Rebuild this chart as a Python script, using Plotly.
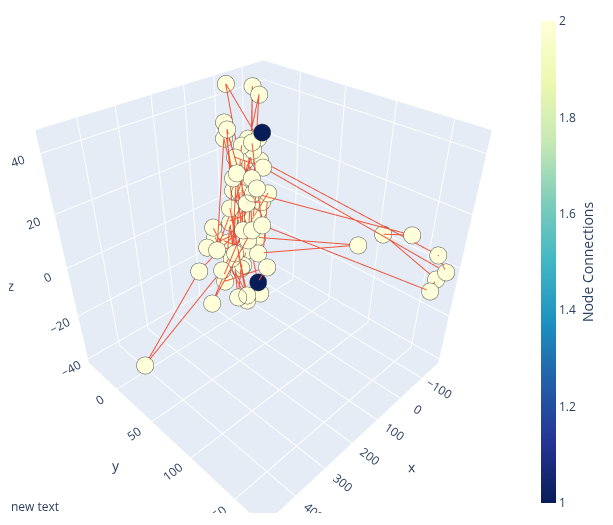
import plotly.graph_objects as go

# node coordinates, listed in chain order (each node is linked to the next one)
node_x = [33.0, 45.7, -10.8, 116.4, 89.9, -29.9, 108.8, -122.7, -73.9, -120.4,
          -98.1, 125.1, 60.1, -56.7, 125.9, 88.3, 128.4, 104.2, 227.2, 66.2,
          200.4, 64.1, -147.5, -144.4, 66.0, 104.1, 159.7, -20.0, 145.6, 90.1,
          199.3, 130.2, 195.9, 83.1, 238.4, 464.9, 278.9, 117.1, 211.3, 220.2,
          163.3, 225.2, 217.7, 173.9, 241.4, 162.7, 288.3, 147.3,
          62.9, 197.4, 80.7, 209.8, 117.0, 184.2, 96.3, 164.0, 140.2, 132.3,
          97.6, 153.0, 129.6, 102.5,
          203.8, 237.7, 177.1, 244.1, 158.2, 188.4]
node_y = [23.8, 23.4, -34.3, 30.9, 23.2, -0.5, 38.6, 142.3, 125.5, 170.2,
          170.7, 54.2, 21.3, -17.5, 40.8, -1.1, 22.3, 4.1, 36.8, 24.5,
          40.4, 31.7, 163.6, 173.6, 35.7, 16.6, 61.0, 115.0, 55.2, 2.9,
          48.0, 30.9, 75.2, 47.0, 46.2, 33.6, 33.5, 47.0, 27.0, 68.6,
          30.4, 70.2, 31.4, 54.3, 30.2, 45.0, 51.4, 50.1,
          17.7, 56.4, 16.5, 47.8, 22.8, 52.1, 32.9, 51.1, 26.2, 46.4,
          39.1, 38.4, 38.3, 46.3,
          56.3, 64.1, 35.0, 51.5, 70.7, 70.5]
node_z = [36.2, 34.6, 44.9, 22.4, 28.9, 44.0, 20.4, 9.5, 9.7, -2.0,
          -5.1, 12.1, 33.6, 44.3, 17.2, 38.8, 24.3, 34.6, 5.6, 31.5,
          7.6, 28.9, 4.3, -0.1, 27.1, 29.7, 4.8, 6.9, 8.9, 37.0,
          4.8, 20.6, -5.6, 20.4, 0.4, -24.3, 0.1, 15.9, 11.5, -6.1,
          16.5, -7.4, 8.9, 5.6, 6.3, 10.8, -8.2, 10.8,
          34.6, 1.7, 32.8, 3.5, 25.6, 5.1, 24.3, 8.2, 21.1, 14.2,
          21.7, 14.6, 17.8, 18.1,
          0.9, -6.6, 12.8, -2.5, 1.2, -2.7]

# axis ranges and label
x_range = [-181, 499]
y_range = [-45, 179]
z_range = [-42, 47]
note = "new text"

n = len(node_x)
edges = [(i, i + 1) for i in range(n - 1)]

# connections per node
degree = [0] * n
for a, b in edges:
    degree[a] += 1
    degree[b] += 1

edge_x, edge_y, edge_z = [], [], []
for a, b in edges:
    edge_x += [node_x[a], node_x[b], None]
    edge_y += [node_y[a], node_y[b], None]
    edge_z += [node_z[a], node_z[b], None]

edge_trace = go.Scatter3d(
    x=edge_x, y=edge_y, z=edge_z,
    mode="lines",
    line=dict(color="#EF553B", width=2),
    hoverinfo="none",
)

node_trace = go.Scatter3d(
    x=node_x, y=node_y, z=node_z,
    mode="markers",
    hoverinfo="text",
    marker=dict(
        size=10,
        color=degree,
        colorscale="YlGnBu",
        reversescale=True,
        cmin=1, cmax=2,
        showscale=True,
        opacity=1,
        line=dict(color="rgb(80,80,80)", width=1),
        colorbar=dict(
            thickness=15,
            x=1.025,
            title=dict(text="Node Connections", side="right"),
            xanchor="left",
        ),
    ),
)

fig = go.Figure(data=[edge_trace, node_trace])
fig.update_layout(
    width=613, height=525,
    showlegend=False,
    margin=dict(l=1, r=103, t=3, b=20),
    scene=dict(
        aspectmode="cube",
        xaxis=dict(range=x_range, title="x"),
        yaxis=dict(range=y_range, title="y"),
        zaxis=dict(range=z_range, title="z", dtick=20),
    ),
    annotations=[dict(text=note, x=0, y=0, xref="paper", yref="paper",
                      yshift=-4, showarrow=False)],
)

fig.write_html("out.html")
